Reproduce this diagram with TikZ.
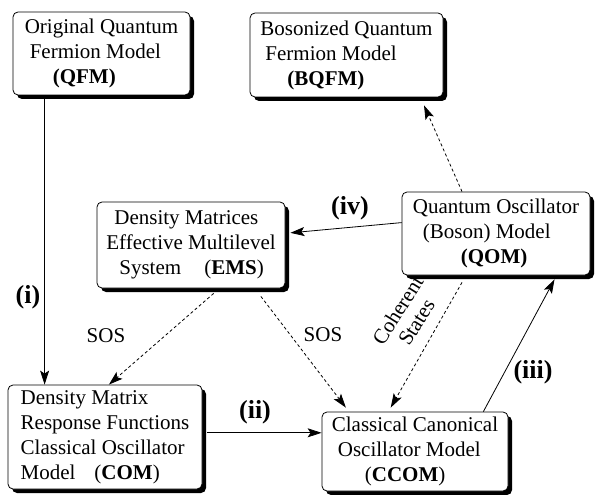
\documentclass[tikz,border=0pt]{standalone}
\usepackage{fontspec}
\setmainfont{Liberation Serif}
\usetikzlibrary{arrows.meta,calc,shadows}

\begin{document}
\begin{tikzpicture}[x=1bp,y=-1bp,every node/.style={align=left,inner sep=2bp},
    box/.style={draw,line width=0.8bp,fill=white,rounded corners=5bp,
      drop shadow={shadow xshift=4bp,shadow yshift=-4bp,fill=black,opacity=1},
      font=\fontsize{21bp}{25bp}\selectfont},
    lbl/.style={font=\fontsize{21bp}{25bp}\selectfont},
    num/.style={font=\fontsize{26bp}{30bp}\selectfont\bfseries},
    arr/.style={line width=0.8bp,-{Stealth[length=14bp,width=9bp,inset=3bp]}},
    darr/.style={arr,dash pattern=on 3bp off 2.5bp}]
        \useasboundingbox (0,0) rectangle (596,495);
        \node[box,minimum width=177bp,minimum height=83bp] (qfm) at (101.5,53.5) {Original Quantum\\\hspace*{5bp}Fermion Model\\\hspace*{28bp}\textbf{(QFM)}};
        \node[box,minimum width=193bp,minimum height=84bp] (bqfm) at (346.5,55) {Bosonized Quantum\\\hspace*{5bp}Fermion Model\\\hspace*{27bp}\textbf{(BQFM)}};
        \node[box,minimum width=188bp,minimum height=86bp] (ems) at (191,245) {\hspace*{8bp}Density Matrices\\Effective Multilevel\\\hspace*{13bp}System\hspace{1.1em}(\textbf{EMS})};
        \node[box,minimum width=188bp,minimum height=83bp] (qom) at (496,233.5) {Quantum Oscillator\\\hspace*{10bp}(Boson) Model\\\hspace*{48bp}\textbf{(QOM)}};
        \node[box,minimum width=194bp,minimum height=104bp] (com) at (105,437) {Density Matrix\\Response Functions\\Classical Oscillator\\Model\hspace{0.9em}(\textbf{COM})};
        \node[box,minimum width=186bp,minimum height=79bp] (ccom) at (415,451.5) {Classical Canonical\\\hspace*{6bp}Oscillator Model\\\hspace*{33bp}(\textbf{CCOM})};
        % solid steps
        \coordinate (a) at ($(qfm.south west)!.18!(qfm.south east)+(0,3)$);
        \draw[arr] (a) -- (a |- com.north);
        \coordinate (b) at ($(com.north east)!.46!(com.south east)+(5,0)$);
        \draw[arr] (b) -- (b -| ccom.west);
        \draw[arr] ($(ccom.north west)!.866!(ccom.north east)$) -- ($(qom.south west)!.81!(qom.south east)+(0,4)$);
        \draw[arr] ($(qom.north west)!.37!(qom.south west)$) -- ($(ems.north east)!.36!(ems.south east)+(5,0)$);
        % dashed steps
        \draw[darr] ($(qom.north west)!.32!(qom.north east)$) -- ($(bqfm.south west)!.9!(bqfm.south east)+(0,8)$);
        \draw[darr] ($(ems.south west)!.62!(ems.south east)+(0,5)$) -- ($(com.north west)!.52!(com.north east)$);
        \draw[darr] ($(ems.south west)!.87!(ems.south east)+(0,8)$) -- ($(ccom.north west)!.13!(ccom.north east)+(0,-4)$);
        \draw[darr] ($(qom.south west)!.32!(qom.south east)+(0,7)$) -- ($(ccom.north west)!.37!(ccom.north east)+(0,-4)$);
        \node[num] (n1) at (28,297) {(i)};
        \node[num] (n2) at (255,412) {(ii)};
        \node[num] (n3) at (533,372) {(iii)};
        \node[num] (n4) at (350,208) {(iv)};
        \node[lbl] (sos1) at (106,336) {SOS};
        \node[lbl] (sos2) at (323,335) {SOS};
        \node[lbl,align=center,rotate=58,inner sep=0pt] (coh) at (407,316) {Coherent\\[-3bp]States};
      \end{tikzpicture}
\end{document}
